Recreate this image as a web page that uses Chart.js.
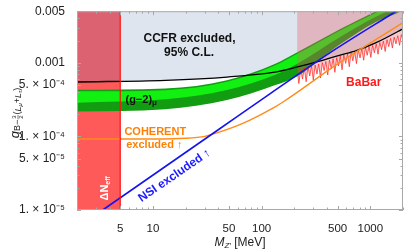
<!DOCTYPE html>
<html>
<head>
<meta charset="utf-8">
<script src="https://cdn.jsdelivr.net/npm/chart.js@4"></script>
<style>
  html, body { margin: 0; padding: 0; background: #fff; }
</style>
</head>
<body>
<canvas id="chart" width="407" height="252"></canvas>
<script>
// axis ticks
const xTicks = [5, 10, 50, 100, 500, 1000];
const xTickLabels = ["5", "10", "50", "100", "500", "1000"];
const xMinorTicks = [2, 3, 4, 6, 7, 8, 9, 20, 30, 40, 60, 70, 80, 90, 200, 300, 400, 600, 700, 800, 900, 2000];
const yTicks = [1e-5, 5e-5, 1e-4, 5e-4, 0.001, 0.005];
const yTickLabels = ["1. × 10⁻⁵", "5. × 10⁻⁵", "1. × 10⁻⁴", "5. × 10⁻⁴", "0.001", "0.005"];
const yMinorTicks = [2e-5, 3e-5, 4e-5, 6e-5, 7e-5, 8e-5, 9e-5, 2e-4, 3e-4, 4e-4, 6e-4, 7e-4, 8e-4, 9e-4, 0.002, 0.003, 0.004];

// CCFR bound (black)
const ccfrM = [2, 13, 48, 132, 209, 342, 519, 743, 1132, 1837, 2000];
const ccfrG = [5.47e-4, 5.77e-4, 6.38e-4, 7.45e-4, 8.69e-4, 1.05e-3, 1.26e-3, 1.46e-3, 1.87e-3, 2.7e-3, 2.9e-3];

// Delta N_eff exclusion, M < 5 MeV
const neffM = [2, 5];
const neffTop = [0.005, 0.005];
const neffCcfr = [5.47e-4, 5.55e-4];

// (g-2)_mu band
const bandM = [2, 13, 48, 132, 211, 519, 1127, 1722, 2000];
const band2Upper = [4.28e-4, 4.45e-4, 5.77e-4, 9.6e-4, 1.38e-3, 2.83e-3, 5.0e-3, 6.9e-3, 7.7e-3];
const band1Upper = [4.08e-4, 4.24e-4, 5.5e-4, 9.15e-4, 1.31e-3, 2.7e-3, 4.76e-3, 6.6e-3, 7.3e-3];
const band1Lower = [2.86e-4, 3.19e-4, 4.26e-4, 6.8e-4, 9.6e-4, 2.2e-3, 4.2e-3, 5.6e-3, 6.2e-3];
const band2Lower = [2.17e-4, 2.33e-4, 3.11e-4, 4.94e-4, 6.5e-4, 1.75e-3, 3.58e-3, 4.6e-3, 5.2e-3];

// COHERENT (orange)
const cohM = [2, 10, 20, 30, 40, 67, 132, 156, 520, 2000];
const cohG = [9.2e-5, 9.2e-5, 9.4e-5, 1.0e-4, 1.13e-4, 1.5e-4, 2.5e-4, 2.9e-4, 1.0e-3, 3.5e-3];

// NSI (blue)
const nsiM = [3.45, 39, 120, 486, 1730];
const nsiG = [1e-5, 1.2e-4, 3.8e-4, 1.55e-3, 5e-3];

// BaBar (red, jagged)
const babarM = [212, 220, 229, 238, 247, 257, 267, 277, 288, 299, 311, 323, 335, 348, 362, 376, 390, 406, 421, 438,
  455, 472, 491, 510, 529, 550, 571, 594, 617, 641, 665, 691, 718, 746, 775, 805, 836, 869, 902, 937,
  974, 1011, 1051, 1091, 1134, 1178, 1223, 1271, 1320, 1371, 1424, 1480, 1537, 1597, 1659, 1723, 1790, 1859, 1931, 2000];
const babarG = [8.2e-4, 5.2e-4, 8.0e-4, 6.0e-4, 8.5e-4, 5.5e-4, 8.8e-4, 6.6e-4, 9.0e-4, 5.8e-4,
  9.3e-4, 7.0e-4, 9.6e-4, 6.2e-4, 1.0e-3, 7.8e-4, 1.04e-3, 6.8e-4, 1.08e-3, 8.2e-4,
  1.13e-3, 7.4e-4, 1.17e-3, 9.0e-4, 1.23e-3, 8.0e-4, 1.27e-3, 9.8e-4, 1.32e-3, 8.8e-4,
  1.37e-3, 1.06e-3, 1.42e-3, 9.7e-4, 1.48e-3, 1.16e-3, 1.54e-3, 1.08e-3, 1.6e-3, 1.26e-3,
  1.66e-3, 1.18e-3, 1.72e-3, 1.36e-3, 1.8e-3, 1.3e-3, 1.88e-3, 1.5e-3, 1.96e-3, 1.42e-3,
  2.05e-3, 1.65e-3, 2.14e-3, 1.58e-3, 2.22e-3, 1.8e-3, 2.32e-3, 1.72e-3, 2.4e-3, 2.0e-3];

const xy = (xs, ys) => xs.map((x, i) => ({ x: x, y: ys[i] }));
const FONT = "'Liberation Sans', Arial, sans-serif";

// text placed in data coordinates
const labels = [
  { runs: [{ t: "CCFR excluded," }], font: "bold 12px", x: 21.7, y: 2.15e-3, color: "#111" },
  { runs: [{ t: "95% C.L." }], font: "bold 12px", x: 21.5, y: 1.36e-3, color: "#111" },
  { runs: [{ t: "(g−2)" }, { t: "μ", f: "bold 8px", dy: 3 }], font: "bold 11px", x: 7.8, y: 3.14e-4, color: "#111" },
  { runs: [{ t: "COHERENT" }], font: "bold 11px", x: 10.5, y: 1.14e-4, color: "#ff8000" },
  { runs: [{ t: "excluded ↑" }], font: "bold 11px", x: 10.3, y: 7.6e-5, color: "#ff8000" },
  { runs: [{ t: "NSI excluded ↑" }], font: "bold 12px", x: 15.8, y: 2.94e-5, color: "#1a1aff", rot: -34.5 },
  { runs: [{ t: "BaBar" }], font: "bold 12px", x: 871, y: 5.3e-4, color: "#ff1a1a" },
  { runs: [{ t: "ΔN" }, { t: "eff", f: "bold 7px", dy: 3 }], font: "bold 11px", x: 3.62, y: 1.97e-5, color: "#fff", rot: -90 }
];

function drawRuns(ctx, runs, baseFont, x, y, rot) {
  ctx.save();
  ctx.translate(x, y);
  ctx.rotate((rot || 0) * Math.PI / 180);
  ctx.textBaseline = "middle";
  ctx.textAlign = "left";
  let w = 0;
  runs.forEach(r => {
    if (r.frac) {
      ctx.font = r.f + " " + FONT;
      r.w = Math.max(ctx.measureText(r.frac[0]).width, ctx.measureText(r.frac[1]).width) + 2;
    } else {
      ctx.font = (r.f || baseFont) + " " + FONT;
      r.w = ctx.measureText(r.t).width;
    }
    w += r.w;
  });
  let cx = -w / 2;
  runs.forEach(r => {
    if (r.frac) {
      ctx.font = r.f + " " + FONT;
      ctx.textAlign = "center";
      ctx.fillText(r.frac[0], cx + r.w / 2, (r.dy || 0) - 3.5);
      ctx.fillText(r.frac[1], cx + r.w / 2, (r.dy || 0) + 3.5);
      ctx.fillRect(cx + 0.5, (r.dy || 0) - 0.3, r.w - 1, 0.6);
      ctx.textAlign = "left";
    } else {
      ctx.font = (r.f || baseFont) + " " + FONT;
      ctx.fillText(r.t, cx, r.dy || 0);
    }
    cx += r.w;
  });
  ctx.restore();
}

const decorations = {
  id: "decorations",
  afterDatasetsDraw(chart) {
    const ctx = chart.ctx;
    const xs = chart.scales.x, ys = chart.scales.y;
    const area = chart.chartArea;
    ctx.save();
    ctx.beginPath();
    ctx.rect(area.left, area.top, area.right - area.left, area.bottom - area.top);
    ctx.clip();
    labels.forEach(l => {
      ctx.fillStyle = l.color;
      drawRuns(ctx, l.runs, l.font, xs.getPixelForValue(l.x), ys.getPixelForValue(l.y), l.rot);
    });
    ctx.restore();
  },
  afterDraw(chart) {
    const ctx = chart.ctx;
    const xs = chart.scales.x, ys = chart.scales.y;
    const a = chart.chartArea;
    ctx.save();
    ctx.strokeStyle = "#a8a8a8";
    ctx.lineWidth = 1;
    ctx.beginPath();
    const tick = (v, len, horiz) => {
      if (horiz) {
        const p = Math.round(xs.getPixelForValue(v)) + 0.5;
        ctx.moveTo(p, a.bottom); ctx.lineTo(p, a.bottom - len);
        ctx.moveTo(p, a.top); ctx.lineTo(p, a.top + len);
      } else {
        const p = Math.round(ys.getPixelForValue(v)) + 0.5;
        ctx.moveTo(a.left, p); ctx.lineTo(a.left + len, p);
        ctx.moveTo(a.right, p); ctx.lineTo(a.right - len, p);
      }
    };
    xTicks.forEach(v => tick(v, 4, true));
    xMinorTicks.forEach(v => tick(v, 2.5, true));
    yTicks.forEach(v => tick(v, 4, false));
    yMinorTicks.forEach(v => tick(v, 2.5, false));
    ctx.stroke();
    ctx.strokeRect(a.left + 0.5, a.top + 0.5, a.right - a.left - 1, a.bottom - a.top - 1);

    // axis titles
    ctx.fillStyle = "#222";
    drawRuns(ctx, [
      { t: "M", f: "italic 12px" },
      { t: "Z′", f: "italic 8px", dy: 3 },
      { t: " [MeV]" }
    ], "12px", 240, 243, 0);
    drawRuns(ctx, [
      { t: "g", f: "italic 13px" },
      { t: "B−", f: "9px", dy: 3 },
      { frac: ["3", "2"], f: "6px", dy: 3 },
      { t: "(", f: "9px", dy: 3 },
      { t: "L", f: "italic 9px", dy: 3 },
      { t: "μ", f: "italic 6px", dy: 5 },
      { t: "+", f: "9px", dy: 3 },
      { t: "L", f: "italic 9px", dy: 3 },
      { t: "τ", f: "italic 6px", dy: 5 },
      { t: ")", f: "9px", dy: 3 }
    ], "9px", 15, 113, -90);
    ctx.restore();
  }
};

const line = (data, color, width, order, extra) => Object.assign({
  data: data, borderColor: color, borderWidth: width, pointRadius: 0,
  fill: false, order: order, cubicInterpolationMode: "monotone"
}, extra || {});

const datasets = [
  // 0: CCFR region
  line(xy(ccfrM, ccfrG), "rgba(0,0,0,0)", 0, 20, { fill: "end", backgroundColor: "#dee5ef" }),
  // 1: Neff full
  line(xy(neffM, neffTop), "rgba(0,0,0,0)", 0, 19, { fill: "start", backgroundColor: "#ff5a5a", cubicInterpolationMode: "default" }),
  // 2: Neff overlapping CCFR
  line(xy(neffM, neffCcfr), "rgba(0,0,0,0)", 0, 18, { fill: "end", backgroundColor: "#dc6272", cubicInterpolationMode: "default" }),
  // 3,4: (g-2) 2 sigma
  line(xy(bandM, band2Upper), "rgba(0,0,0,0)", 0, 17, { fill: 4, backgroundColor: "#129c12" }),
  line(xy(bandM, band2Lower), "rgba(0,0,0,0)", 0, 17),
  // 5,6: (g-2) 1 sigma
  line(xy(bandM, band1Upper), "rgba(0,0,0,0)", 0, 16, { fill: 6, backgroundColor: "#12f012" }),
  line(xy(bandM, band1Lower), "rgba(0,0,0,0)", 0, 16),
  // 7: BaBar
  line(xy(babarM, babarG), "#ff2020", 0.7, 10, { fill: "end", backgroundColor: "rgba(228,92,100,0.33)", cubicInterpolationMode: "default" }),
  // 8: CCFR line
  line(xy(ccfrM, ccfrG), "#000", 1.3, 6),
  // 9: COHERENT
  line(xy(cohM, cohG), "#ff8c1a", 1.4, 5),
  // 10: NSI
  line(xy(nsiM, nsiG), "#1414ee", 1.6, 4),
  // 11: M = 5 MeV edge
  line(xy([5, 5], [1e-5, 0.005]), "#ff1010", 1.2, 2, { cubicInterpolationMode: "default" })
];

new Chart(document.getElementById("chart"), {
  type: "line",
  data: { datasets: datasets },
  options: {
    responsive: false,
    animation: false,
    devicePixelRatio: 1,
    layout: { padding: { top: 8, right: 4, left: 0, bottom: 0 } },
    plugins: { legend: { display: false }, tooltip: { enabled: false } },
    scales: {
      x: {
        type: "logarithmic", min: 2, max: 2000,
        grid: { display: false }, border: { display: false },
        afterBuildTicks: s => { s.ticks = xTicks.map(v => ({ value: v })); },
        afterFit: s => { s.height = 42; },
        ticks: {
          color: "#222", padding: 4, maxRotation: 0, autoSkip: false,
          font: { family: FONT, size: 11.5 },
          callback: v => xTickLabels[xTicks.indexOf(v)]
        }
      },
      y: {
        type: "logarithmic", min: 1e-5, max: 0.005,
        grid: { display: false }, border: { display: false },
        afterBuildTicks: s => { s.ticks = yTicks.map(v => ({ value: v })); },
        afterFit: s => { s.width = 77; },
        ticks: {
          color: "#222", padding: 4, autoSkip: false,
          font: { family: FONT, size: 12 },
          callback: v => yTickLabels[yTicks.indexOf(v)]
        }
      }
    }
  },
  plugins: [decorations]
});
</script>
</body>
</html>
